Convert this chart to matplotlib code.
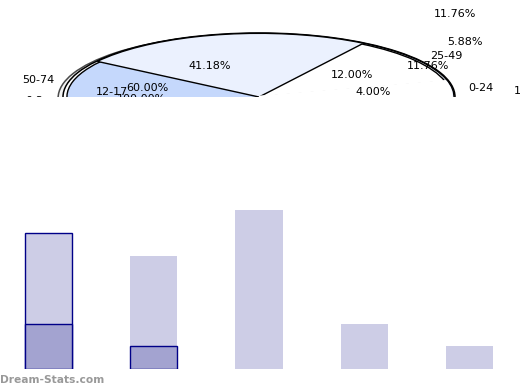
import matplotlib.pyplot as plt

# three pies drawn on top of each other in the source
labels_a = ["", "12-17", "18-24", "", ""]
counts_a = [7, 2, 1, 2, 5]        # 41.18 / 11.76 / 5.88 / 11.76 / 29.41 %
labels_b = ["0-24", "25-49", "50-74", "75+"]
counts_b = [1, 3, 15, 6]          # 4 / 12 / 60 / 24 %
labels_c = ["0-2"]
counts_c = [1]                    # 100 %

# bars below the pie
bar_x = [0, 1, 2, 3, 4]
bar_total = [6, 5, 7, 2, 1]
part_x = [0, 1]
bar_part = [2, 1]

pale = "#ebf1fe"
mid = "#c5d8fc"
light_bar = "#cdcde6"
dark_bar = "#a3a3d0"
navy = "#000088"

fig = plt.figure(figsize=(5.2, 3.9), dpi=100)

# pie axes: squashed ellipse, centre at (259, 97) px, radii 196 x 64 px
lim = 1.1
ax_pie = fig.add_axes([(259 - lim * 196) / 520, (390 - 97 - lim * 64) / 390,
                       2 * lim * 196 / 520, 2 * lim * 64 / 390])

# bottom pie: single white slice with an outlined shadow
shadow = {"ox": -0.018, "oy": -0.012, "facecolor": "#f4f4f4",
          "edgecolor": "#4a4a4a", "alpha": 1}
w_c, t_c, p_c = ax_pie.pie(counts_c, labels=labels_c, colors=["white"], startangle=3,
                           autopct="%.2f%%", shadow=shadow,
                           wedgeprops={"edgecolor": "black", "linewidth": 1.1},
                           textprops={"fontsize": 8})

# age pie
w_b, t_b, p_b = ax_pie.pie(counts_b, labels=labels_b, colors=["white", "white", mid, "white"],
                           startangle=0, radius=0.98, autopct="%.2f%%",
                           wedgeprops={"edgecolor": "black", "linewidth": 1},
                           textprops={"fontsize": 8})
w_b[0].set_edgecolor("white")
w_b[0].set_linewidth(2)
w_b[0].set_zorder(5)
w_b[1].set_zorder(4)
w_b[2].set_zorder(2)
w_b[3].set_linewidth(0)
w_b[3].set_zorder(4)

# third pie, only its big slice is filled
w_a, t_a, p_a = ax_pie.pie(counts_a, labels=labels_a, colors=[pale, "none", "none", "none", "none"],
                           startangle=146, counterclock=False, radius=0.995, autopct="%.2f%%",
                           wedgeprops={"edgecolor": "black", "linewidth": 1},
                           textprops={"fontsize": 8})
for i, w in enumerate(w_a):
    w.set_zorder(3)
    if i > 0:
        w.set_linewidth(0)

# where the labels of the third pie ended up in the source
pct_spots = [(-0.25, 0.48), (0.86, 0.48), (1.05, 0.86), (1.0, 1.30)]
for txt, xy in zip(p_a, pct_spots):
    txt.set_position(xy)
t_a[1].set_position((-0.75, 0.08))
t_a[1].set_ha("center")
t_a[2].set_position((1.30, 0.09))
t_a[2].set_ha("left")

for txt in t_a + t_b + t_c + p_a + p_b + p_c:
    txt.set_zorder(10)

ax_pie.set_aspect("auto")
ax_pie.set_xlim(-lim, lim)
ax_pie.set_ylim(-lim, lim)
ax_pie.axis("off")

# bar axes covers the lower half of the pie
ax_bar = fig.add_axes([0, 21 / 390, 1, 272 / 390])
ax_bar.set_facecolor("white")
ax_bar.bar(bar_x, bar_total, width=0.45, color=light_bar,
           edgecolor=[navy, "none", "none", "none", "none"], linewidth=1)
ax_bar.bar(part_x, bar_part, width=0.45, color=dark_bar, edgecolor=navy, linewidth=1)
ax_bar.set_xlim(-0.46, 4.48)
ax_bar.set_ylim(0, 12)
ax_bar.set_xticks([])
ax_bar.set_yticks([])
for s in ax_bar.spines.values():
    s.set_visible(False)

fig.text(0.0, 10 / 390, "Dream-Stats.com", color="#999999", fontsize=7.7,
         fontweight="bold", va="center", ha="left")

plt.savefig("out.png", dpi=100)
